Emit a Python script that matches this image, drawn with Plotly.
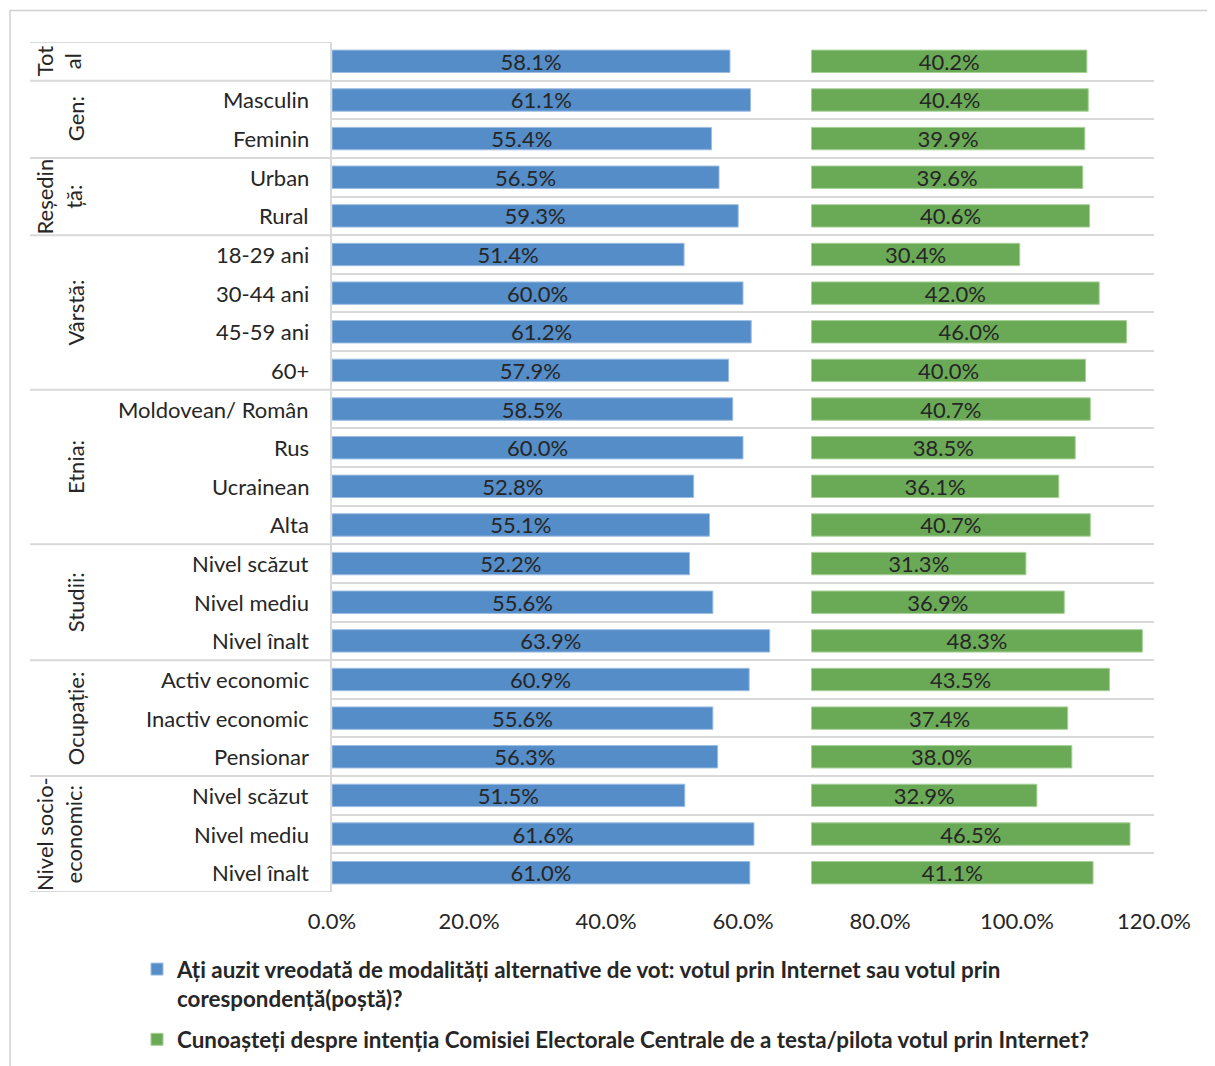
import plotly.graph_objects as go

# ---------------- data ----------------
categories = ["", "Masculin", "Feminin", "Urban", "Rural",
              "18-29 ani", "30-44 ani", "45-59 ani", "60+",
              "Moldovean/ Român", "Rus", "Ucrainean", "Alta",
              "Nivel scăzut", "Nivel mediu", "Nivel înalt",
              "Activ economic", "Inactiv economic", "Pensionar",
              "Nivel scăzut", "Nivel mediu", "Nivel înalt"]
group_labels = ["Tot<br>al", "Gen:", "Reședin<br>ță:", "Vârstă:", "Etnia:",
                "Studii:", "Ocupație:", "Nivel socio-<br>economic:"]
group_sizes = [1, 2, 2, 4, 4, 3, 3, 3]

heard_alt_vote = [58.1, 61.1, 55.4, 56.5, 59.3, 51.4, 60.0, 61.2, 57.9,
                  58.5, 60.0, 52.8, 55.1, 52.2, 55.6, 63.9, 60.9, 55.6, 56.3,
                  51.5, 61.6, 61.0]
know_cec_pilot = [40.2, 40.4, 39.9, 39.6, 40.6, 30.4, 42.0, 46.0, 40.0,
                  40.7, 38.5, 36.1, 40.7, 31.3, 36.9, 48.3, 43.5, 37.4, 38.0,
                  32.9, 46.5, 41.1]
x_ticks = [0, 20, 40, 60, 80, 100, 120]

series_names = [
    "Ați auzit vreodată de modalități alternative de vot: votul prin Internet sau votul prin<br>corespondență(poștă)?",
    "Cunoașteți despre intenția Comisiei Electorale Centrale de a testa/pilota votul prin Internet?",
]

# ---------------- style ----------------
PAGE_W, PAGE_H = 1215, 1066
OX, OY = 8, 8                      # default body margin of the html page
W, H = PAGE_W - OX, PAGE_H - OY
PLOT_L, PLOT_R, PLOT_T, PLOT_B = 332, 1154, 42, 892   # page pixels
ML, MT = PLOT_L - OX, PLOT_T - OY
MR = W - (PLOT_R - OX)
MB = H - (PLOT_B - OY)
PW, PH = PLOT_R - PLOT_L, PLOT_B - PLOT_T
FONT = "Lato"
TXT = "#262626"
GRID = "#d9d9d9"
BLUE = "#548DC8"
GREEN = "#6AAA57"
GREEN_BASE = 70  # second series drawn on an offset baseline


def px_to_paper_x(px):
    return (px - PLOT_L) / PW


def px_to_paper_y(py):
    return (PLOT_B - py) / PH


n = len(categories)
rows = list(range(n))

fig = go.Figure()
fig.add_trace(go.Bar(
    y=rows, x=heard_alt_vote, orientation="h", name=series_names[0],
    marker=dict(color=BLUE, line=dict(color="#9DBDE3", width=1)),
    width=0.58, text=[f"{v:.1f}%" for v in heard_alt_vote],
    textposition="inside", insidetextanchor="middle", constraintext="none",
    textfont=dict(family=FONT, size=22, color=TXT), cliponaxis=False,
    legendgroup="a", hoverinfo="x+y",
))
fig.add_trace(go.Bar(
    y=rows, x=know_cec_pilot, base=[GREEN_BASE] * n, orientation="h",
    name=series_names[1],
    marker=dict(color=GREEN, line=dict(color="#A6D096", width=1)),
    width=0.58, text=[f"{v:.1f}%" for v in know_cec_pilot],
    textposition="inside", insidetextanchor="middle", constraintext="none",
    textfont=dict(family=FONT, size=22, color=TXT), cliponaxis=False,
    legendgroup="b", hoverinfo="x+y",
))

shapes = []
annotations = []

# group boundaries extending into the label area
bounds = [0]
for s in group_sizes:
    bounds.append(bounds[-1] + s)
for b in bounds:
    shapes.append(dict(type="line", xref="paper", yref="y",
                       x0=px_to_paper_x(30), x1=0, y0=b - 0.5, y1=b - 0.5,
                       line=dict(color=GRID, width=2), layer="below"))

# category labels
for i, c in enumerate(categories):
    if c:
        annotations.append(dict(xref="paper", yref="y", x=px_to_paper_x(311), y=i,
                                text=c, showarrow=False, xanchor="right", yanchor="middle",
                                font=dict(family=FONT, size=22, color=TXT)))

# group labels (rotated)
for lab, b0, b1 in zip(group_labels, bounds[:-1], bounds[1:]):
    two = "<br>" in lab
    cx = 59 if two else 75
    annotations.append(dict(xref="paper", yref="y", x=px_to_paper_x(cx),
                            y=(b0 + b1 - 1) / 2, text=lab, showarrow=False,
                            textangle=-90, xanchor="center", yanchor="middle",
                            font=dict(family=FONT, size=22, color=TXT)))

# outer chart border (top & left visible)
shapes.append(dict(type="rect", xref="paper", yref="paper",
                   x0=px_to_paper_x(10), x1=px_to_paper_x(PAGE_W + 20),
                   y0=px_to_paper_y(PAGE_H + 20), y1=px_to_paper_y(10.5),
                   line=dict(color="#d0d0d0", width=1.5), layer="below"))

fig.update_layout(
    width=W, height=H,
    margin=dict(l=ML, r=MR, t=MT, b=MB, pad=0, autoexpand=False),
    paper_bgcolor="white", plot_bgcolor="white",
    barmode="overlay",
    font=dict(family=FONT, size=22, color=TXT),
    xaxis=dict(range=[0, 120], tickvals=x_ticks,
               ticktext=[f"{v:.1f}%" for v in x_ticks],
               showgrid=False, zeroline=False, showline=False, ticks="",
               ticklabelstandoff=14, automargin=False,
               tickfont=dict(family=FONT, size=22, color=TXT), fixedrange=True),
    yaxis=dict(range=[n - 0.5, -0.5], tickvals=[i - 0.5 for i in range(n + 1)],
               showticklabels=False, showgrid=True, gridcolor=GRID, gridwidth=2,
               zeroline=False, showline=True, linecolor=GRID, linewidth=2,
               ticks="", fixedrange=True, automargin=False),
    showlegend=True,
    legend=dict(x=px_to_paper_x(137), y=px_to_paper_y(948), xanchor="left", yanchor="top",
                orientation="v", valign="top", tracegroupgap=9,
                font=dict(family=FONT, size=22.4, color=TXT, weight="bold"),
                bgcolor="rgba(0,0,0,0)", itemclick=False, itemdoubleclick=False),
    shapes=shapes, annotations=annotations,
)

fig.write_html("out.html")
